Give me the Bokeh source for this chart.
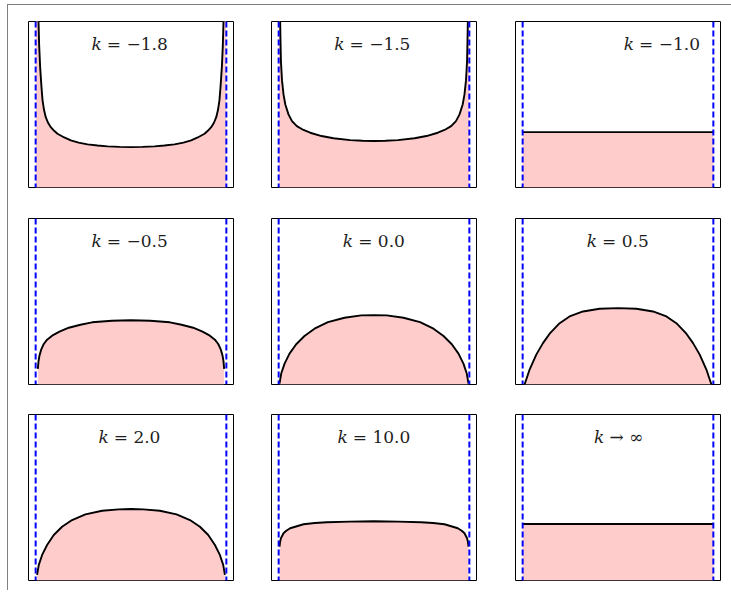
from bokeh.plotting import figure
from bokeh.layouts import gridplot, row, column
from bokeh.models import Span, Spacer
from bokeh.core.properties import value
from bokeh.embed import file_html
from bokeh.resources import INLINE

# ---------------- data ----------------
K_TEXT = ["= −1.8", "= −1.5", "= −1.0",
          "= −0.5", "= 0.0", "= 0.5",
          "= 2.0", "= 10.0", "→ ∞"]
K_SYMBOL = "k"
SUPPORT_EDGES = [-1.0, 1.0]

X1 = [-0.999, -0.975, -0.970, -0.963, -0.953, -0.940, -0.928, -0.912, -0.894, -0.870,
      -0.841, -0.806, -0.771, -0.700, -0.631, -0.550, -0.456, -0.350, -0.246, -0.120,
      0.000,
      0.120, 0.246, 0.350, 0.456, 0.550, 0.631, 0.700, 0.771, 0.806, 0.841,
      0.870, 0.894, 0.912, 0.928, 0.940, 0.953, 0.963, 0.970, 0.975, 0.999]
Y1 = [30.0, 1.90, 1.50, 1.28, 1.09, 0.92, 0.79, 0.70, 0.635, 0.585,
      0.545, 0.512, 0.486, 0.452, 0.426, 0.405, 0.390, 0.379, 0.372, 0.367,
      0.365,
      0.367, 0.372, 0.379, 0.390, 0.405, 0.426, 0.452, 0.486, 0.512, 0.545,
      0.585, 0.635, 0.70, 0.79, 0.92, 1.09, 1.28, 1.50, 1.90, 30.0]

X2 = [-0.999, -0.988, -0.984, -0.980, -0.976, -0.965, -0.949, -0.930, -0.897, -0.860,
      -0.809, -0.740, -0.669, -0.550, -0.425, -0.250, -0.120,
      0.000,
      0.120, 0.250, 0.425, 0.550, 0.669, 0.740, 0.809, 0.860, 0.897, 0.930,
      0.949, 0.965, 0.976, 0.980, 0.984, 0.988, 0.999]
Y2 = [30.0, 1.90, 1.49, 1.30, 1.14, 0.97, 0.841, 0.75, 0.661, 0.60,
      0.555, 0.52, 0.495, 0.465, 0.445, 0.428, 0.422,
      0.420,
      0.422, 0.428, 0.445, 0.465, 0.495, 0.52, 0.555, 0.60, 0.661, 0.75,
      0.841, 0.97, 1.14, 1.30, 1.49, 1.90, 30.0]

X3 = [-1.0, 1.0]
Y3 = [0.50, 0.50]

X4 = [-0.977, -0.970, -0.960, -0.940, -0.915, -0.880, -0.827, -0.750, -0.652, -0.530,
      -0.408, -0.200, 0.000, 0.200, 0.408, 0.530, 0.652, 0.750, 0.827, 0.880,
      0.915, 0.940, 0.960, 0.970, 0.977]
Y4 = [0.141, 0.21, 0.261, 0.32, 0.366, 0.405, 0.441, 0.478, 0.513, 0.540,
      0.562, 0.576, 0.580, 0.576, 0.562, 0.540, 0.513, 0.478, 0.441, 0.405,
      0.366, 0.32, 0.261, 0.21, 0.141]

X5 = [-0.991, -0.973, -0.938, -0.886, -0.816, -0.729, -0.624, -0.483, -0.309, -0.134,
      0.000, 0.134, 0.309, 0.483, 0.624, 0.729, 0.816, 0.886, 0.938, 0.973, 0.991]
Y5 = [0.009, 0.099, 0.189, 0.279, 0.364, 0.438, 0.504, 0.564, 0.603, 0.625,
      0.627, 0.625, 0.603, 0.564, 0.504, 0.438, 0.364, 0.279, 0.189, 0.099, 0.009]

X6 = [-0.980, -0.954, -0.927, -0.857, -0.787, -0.717, -0.612, -0.508, -0.367, -0.193,
      0.000, 0.193, 0.367, 0.508, 0.612, 0.717, 0.787, 0.857, 0.927, 0.954, 0.980]
Y6 = [0.0, 0.066, 0.135, 0.270, 0.374, 0.459, 0.554, 0.615, 0.660, 0.684,
      0.690, 0.684, 0.660, 0.615, 0.554, 0.459, 0.374, 0.270, 0.135, 0.066, 0.0]

X7 = [-0.985, -0.967, -0.932, -0.880, -0.810, -0.723, -0.618, -0.478, -0.303, -0.128,
      0.000, 0.128, 0.303, 0.478, 0.618, 0.723, 0.810, 0.880, 0.932, 0.967, 0.985]
Y7 = [0.051, 0.141, 0.231, 0.321, 0.411, 0.486, 0.546, 0.597, 0.630, 0.643,
      0.646, 0.643, 0.630, 0.597, 0.546, 0.486, 0.411, 0.321, 0.231, 0.141, 0.051]

X8 = [-0.991, -0.985, -0.976, -0.949, -0.920, -0.879, -0.739, -0.620, -0.494, -0.250,
      0.000, 0.250, 0.494, 0.620, 0.739, 0.879, 0.920, 0.949, 0.976, 0.985, 0.991]
Y8 = [0.306, 0.35, 0.382, 0.427, 0.45, 0.472, 0.508, 0.519, 0.526, 0.532,
      0.535, 0.532, 0.526, 0.519, 0.508, 0.472, 0.45, 0.427, 0.382, 0.35, 0.306]

X9 = [-1.0, 1.0]
Y9 = [0.51, 0.51]

CURVES_X = [X1, X2, X3, X4, X5, X6, X7, X8, X9]
CURVES_Y = [Y1, Y2, Y3, Y4, Y5, Y6, Y7, Y8, Y9]

# ---------------- layout / style ----------------
LABEL_ANCHOR_X = [-0.254, -0.257, 0.221, -0.254, -0.166, -0.167, -0.181, -0.222, -0.09]
LABEL_Y = 1.30
X_RANGE = (-1.075, 1.075)
Y_RANGE = (0.0, 1.5)
FRAME_W = 205
FRAME_H = 166
COL_BL = [20, 19, 20]
COL_BR = [19, 19, 5]
ROW_BT = [16, 16, 15]
ROW_BB = [15, 15, 5]
FILL = "#ffcccc"
FONT = "DejaVu Serif"
TXT_COLOR = "#1e1e1e"
EDGE = {"background-color": "#808080"}

rows = []
for r in range(3):
    prow = []
    for c in range(3):
        i = r * 3 + c
        p = figure(width=COL_BL[c] + FRAME_W + COL_BR[c],
                   height=ROW_BT[r] + FRAME_H + ROW_BB[r],
                   output_backend="svg",
                   toolbar_location=None, x_range=X_RANGE, y_range=Y_RANGE,
                   x_axis_location=None, y_axis_location=None,
                   min_border_left=COL_BL[c], min_border_right=COL_BR[c],
                   min_border_top=ROW_BT[r], min_border_bottom=ROW_BB[r])
        p.grid.visible = False
        p.outline_line_color = "black"
        p.outline_line_width = 1
        p.outline_line_alpha = 1.0
        p.background_fill_color = "white"
        p.border_fill_color = "white"

        p.varea(x=CURVES_X[i], y1=[0.0] * len(CURVES_X[i]), y2=CURVES_Y[i],
                fill_color=FILL, fill_alpha=1.0)
        p.line(x=CURVES_X[i], y=CURVES_Y[i], line_color="black", line_width=1.9)
        for xe in SUPPORT_EDGES:
            p.add_layout(Span(location=xe, dimension="height", line_color="#0000ff",
                              line_width=2, line_dash="6 3"))

        p.text(x=[LABEL_ANCHOR_X[i]], y=[LABEL_Y], text=[K_SYMBOL],
               text_font=value(FONT), text_font_size="17px", text_font_style="italic",
               text_align="right", text_baseline="alphabetic", x_offset=-5,
               text_color=TXT_COLOR)
        p.text(x=[LABEL_ANCHOR_X[i]], y=[LABEL_Y], text=[K_TEXT[i]],
               text_font=value(FONT), text_font_size="17px",
               text_align="left", text_baseline="alphabetic",
               text_color=TXT_COLOR)
        prow.append(p)
    rows.append(prow)

grid = gridplot(rows, toolbar_location=None)

page = column(
    Spacer(width=10, height=4),
    row(Spacer(width=7, height=1), Spacer(width=724, height=1, styles=EDGE)),
    row(Spacer(width=7, height=585), Spacer(width=1, height=585, styles=EDGE), grid),
)

open("out.html", "w").write(file_html(page, INLINE))
